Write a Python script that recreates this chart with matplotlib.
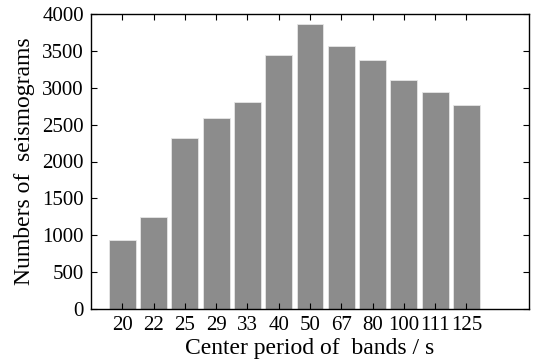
import numpy as np
import matplotlib.pyplot as plt

plt.rcParams['font.family'] = ['Liberation Serif', 'DejaVu Serif']

periods = ['20', '22', '25', '29', '33', '40', '50', '67', '80', '100', '111', '125']
counts = [940, 1250, 2320, 2590, 2810, 3450, 3870, 3570, 3380, 3110, 2940, 2760]

fig = plt.figure(figsize=(5.39, 3.62), dpi=100)
ax = fig.add_axes([91/539, 1 - 309/362, 438/539, 295/362])

x = np.arange(1, len(periods) + 1)
ax.bar(x, counts, width=0.86, color='#8c8c8c', edgecolor='#e6e6e6', linewidth=0.6)

ax.set_xlim(0, 14)
ax.set_ylim(0, 4000)
ax.set_xticks(x)
ax.set_xticklabels(periods)
ax.set_yticks(np.arange(0, 4001, 500))
ax.tick_params(direction='in', top=True, right=True, length=4, labelsize=15, pad=5)
for s in ax.spines.values():
    s.set_linewidth(1.0)

ax.set_xlabel('Center period of  bands / s', fontsize=17, labelpad=2)
ax.set_ylabel('Numbers of  seismograms', fontsize=17, labelpad=5)

plt.savefig('out.png', dpi=100)
